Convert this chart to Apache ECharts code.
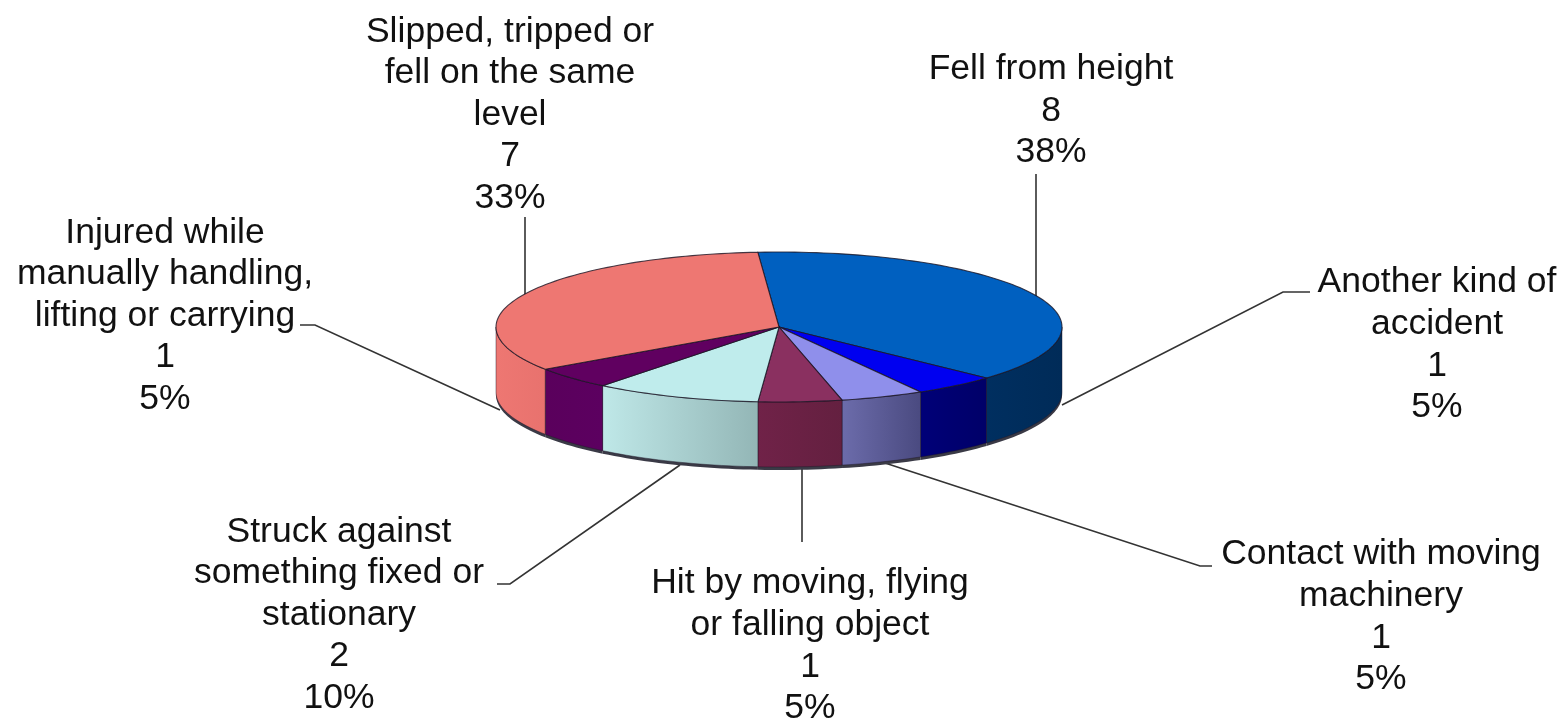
<!DOCTYPE html>
<html>
<head>
<meta charset="utf-8">
<title>Accident kinds</title>
<script src="https://cdn.jsdelivr.net/npm/echarts@6/dist/echarts.min.js"></script>
<style>
    html, body { margin: 0; padding: 0; background: #fff; }
    #main { width: 1565px; height: 722px; }
</style>
</head>
<body>
<div id="main"></div>
<script>
// data, clockwise from the top of the pie
var categories = ['Fell from height', 'Another kind of accident', 'Contact with moving machinery',
    'Hit by moving, flying or falling object', 'Struck against something fixed or stationary',
    'Injured while manually handling, lifting or carrying', 'Slipped, tripped or fell on the same level'];
var values = [8, 1, 1, 1, 2, 1, 7];
var wrappedNames = [
    ['Fell from height'],
    ['Another kind of', 'accident'],
    ['Contact with moving', 'machinery'],
    ['Hit by moving, flying', 'or falling object'],
    ['Struck against', 'something fixed or', 'stationary'],
    ['Injured while', 'manually handling,', 'lifting or carrying'],
    ['Slipped, tripped or', 'fell on the same', 'level']
];

// colours
var topColors = ['#0060c0', '#0000f0', '#8f8feb', '#8a3060', '#bfecec', '#600060', '#ee7772'];
var wallColors = [
    ['#002f60', '#002b58'], ['#000078', '#000068'], ['#6c6cab', '#4a4a80'], ['#702248', '#642040'],
    ['#bfe8e8', '#93b6b6'], ['#5a005c', '#5c0060'], ['#ee7772', '#e8726e']
];

// layout
var cx = 779, cy = 327, rx = 283, ry = 75, depth = 65;
var startAngle = -4.3;
var labelCenters = [[1051, 111], [1437, 345], [1381, 617], [810, 646], [339, 615], [165, 316], [510, 115]];
var leaderLines = [
    [[1036, 174], [1036, 296]],
    [[1310, 292], [1283, 292], [1062, 405]],
    [[1212, 566], [1200, 566], [885, 463]],
    [[802, 468], [802, 542]],
    [[497, 584], [510, 584], [680, 465]],
    [[300, 325], [315, 325], [500, 410]],
    [[525, 217], [525, 296]]
];

var total = values.reduce(function (a, b) { return a + b; }, 0);

function point(deg, dy) {
    var t = deg * Math.PI / 180;
    return [cx + rx * Math.sin(t), cy - ry * Math.cos(t) + (dy || 0)];
}

function arcPoints(from, to, dy) {
    var pts = [];
    var n = Math.max(2, Math.ceil(Math.abs(to - from) / 1.5));
    for (var i = 0; i <= n; i++) {
        pts.push(point(from + (to - from) * i / n, dy));
    }
    return pts;
}

function sliceRange(index) {
    var before = 0;
    for (var i = 0; i < index; i++) before += values[i];
    return [startAngle + before / total * 360, startAngle + (before + values[index]) / total * 360];
}

function renderSlice(params, api) {
    var range = sliceRange(params.dataIndex);
    var children = [];
    // only the front half of the rim is visible
    var from = Math.max(range[0], 90), to = Math.min(range[1], 270);
    if (from < to) {
        var front = arcPoints(from, to, 0);
        var back = arcPoints(to, from, depth);
        var rim = arcPoints(to, from, depth + 3);
        var colors = wallColors[params.dataIndex];
        children.push({
            type: 'polygon',
            shape: { points: front.concat(rim) },
            style: { fill: '#3a3a46' }
        });
        children.push({
            type: 'polygon',
            shape: { points: front.concat(back) },
            style: {
                fill: new echarts.graphic.LinearGradient(0, 0, 1, 0, [
                    { offset: 0, color: colors[0] },
                    { offset: 1, color: colors[1] }
                ]),
                stroke: 'rgba(30,20,40,0.55)',
                lineWidth: 0.8
            }
        });
    }
    children.push({
        type: 'polygon',
        shape: { points: [[cx, cy]].concat(arcPoints(range[0], range[1], 0)) },
        style: { fill: topColors[params.dataIndex], stroke: 'rgba(25,20,35,0.8)', lineWidth: 1.1 }
    });
    return { type: 'group', children: children };
}

function renderLeader(params, api) {
    return {
        type: 'polyline',
        shape: { points: leaderLines[params.dataIndex] },
        style: { fill: null, stroke: '#333', lineWidth: 1.6 }
    };
}

function renderLabel(params, api) {
    var i = params.dataIndex;
    var percent = Math.round(values[i] / total * 100) + '%';
    var lines = wrappedNames[i].concat([String(values[i]), percent]);
    return {
        type: 'text',
        x: labelCenters[i][0],
        y: labelCenters[i][1],
        style: {
            text: lines.join('\n'),
            font: '35.5px "Liberation Sans", Arial, sans-serif',
            lineHeight: 41.6,
            fill: '#111',
            align: 'center',
            verticalAlign: 'middle'
        }
    };
}

var seriesData = values.map(function (v, i) { return { name: categories[i], value: v }; });

var option = {
    animation: false,
    backgroundColor: '#fff',
    series: [
        { type: 'custom', coordinateSystem: 'none', z: 1, silent: true, data: seriesData, renderItem: renderLeader },
        { type: 'custom', coordinateSystem: 'none', z: 2, silent: true, data: seriesData, renderItem: renderSlice },
        { type: 'custom', coordinateSystem: 'none', z: 3, silent: true, data: seriesData, renderItem: renderLabel }
    ]
};

var myChart = echarts.init(document.getElementById('main'), null, { renderer: 'canvas' });
myChart.setOption(option);
</script>
</body>
</html>
